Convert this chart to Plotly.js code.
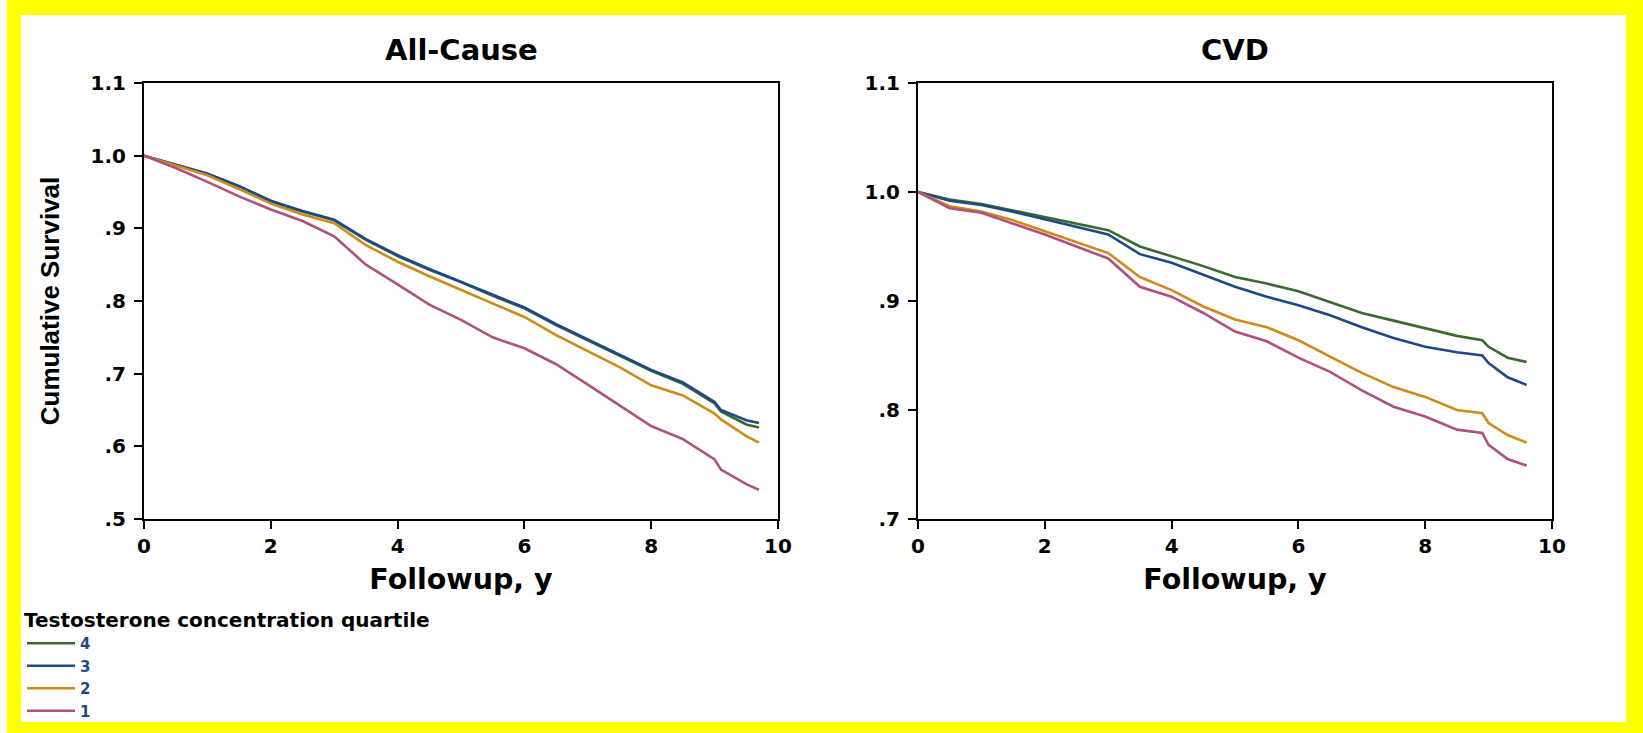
<!DOCTYPE html>
<html>
<head>
<meta charset="utf-8">
<script src="https://cdn.plot.ly/plotly-3.0.1.min.js"></script>
<style>
  html, body { margin: 0; padding: 0; background: #ffffff; }
  #frame { position: absolute; left: 7px; top: 0; width: 1636px; height: 733px; background: #ffff00; }
  #inner { position: absolute; left: 21px; top: 15px; width: 1605px; height: 707px; background: #ffffff; }
  #chart { position: absolute; left: 0; top: 0; width: 1643px; height: 733px; }
</style>
</head>
<body>
<div id="frame"></div>
<div id="inner"></div>
<div id="chart"></div>
<script>
// ---- Data ----
const panelTitles = ["All-Cause", "CVD"];
const quartileNames = ["4", "3", "2", "1"];

// All-Cause panel: follow-up years and cumulative survival per quartile
const tAll = [0, 0.5, 1, 1.5, 2, 2.5, 3, 3.5, 4, 4.5, 5, 5.5, 6, 6.5, 7, 7.5, 8, 8.5, 9, 9.1, 9.5, 9.7];
const allQ4 = [1.0, 0.987, 0.975, 0.958, 0.937, 0.923, 0.911, 0.884, 0.862, 0.843, 0.826, 0.807, 0.790, 0.767, 0.746, 0.725, 0.704, 0.686, 0.659, 0.648, 0.630, 0.626];
const allQ3 = [1.0, 0.987, 0.975, 0.958, 0.938, 0.924, 0.912, 0.885, 0.863, 0.844, 0.826, 0.808, 0.791, 0.768, 0.747, 0.726, 0.705, 0.688, 0.661, 0.650, 0.636, 0.632];
const allQ2 = [1.0, 0.986, 0.973, 0.954, 0.934, 0.919, 0.907, 0.877, 0.854, 0.834, 0.815, 0.797, 0.778, 0.753, 0.731, 0.709, 0.684, 0.670, 0.645, 0.637, 0.614, 0.605];
const allQ1 = [1.0, 0.983, 0.964, 0.944, 0.926, 0.910, 0.889, 0.850, 0.823, 0.795, 0.774, 0.750, 0.735, 0.713, 0.685, 0.656, 0.628, 0.610, 0.582, 0.568, 0.548, 0.540];

// CVD panel
const tCvd = [0, 0.5, 1, 1.5, 2, 2.5, 3, 3.5, 4, 4.5, 5, 5.5, 6, 6.5, 7, 7.5, 8, 8.5, 8.9, 9, 9.3, 9.6];
const cvdQ4 = [1.0, 0.993, 0.989, 0.983, 0.977, 0.971, 0.965, 0.950, 0.941, 0.932, 0.922, 0.916, 0.909, 0.899, 0.889, 0.882, 0.875, 0.868, 0.864, 0.858, 0.848, 0.844];
const cvdQ3 = [1.0, 0.992, 0.988, 0.982, 0.975, 0.968, 0.961, 0.943, 0.935, 0.924, 0.913, 0.904, 0.896, 0.887, 0.876, 0.866, 0.858, 0.853, 0.850, 0.843, 0.830, 0.823];
const cvdQ2 = [1.0, 0.987, 0.982, 0.974, 0.964, 0.954, 0.944, 0.922, 0.910, 0.895, 0.883, 0.876, 0.864, 0.849, 0.834, 0.821, 0.812, 0.800, 0.797, 0.788, 0.777, 0.770];
const cvdQ1 = [1.0, 0.985, 0.981, 0.971, 0.961, 0.950, 0.939, 0.913, 0.904, 0.889, 0.872, 0.863, 0.848, 0.835, 0.818, 0.803, 0.794, 0.782, 0.779, 0.768, 0.755, 0.749];

// Tick labels
const xTickVals = [0, 2, 4, 6, 8, 10];
const xTickText = ["0", "2", "4", "6", "8", "10"];
const yTickValsAll = [0.5, 0.6, 0.7, 0.8, 0.9, 1.0, 1.1];
const yTickTextAll = [".5", ".6", ".7", ".8", ".9", "1.0", "1.1"];
const yTickValsCvd = [0.7, 0.8, 0.9, 1.0, 1.1];
const yTickTextCvd = [".7", ".8", ".9", "1.0", "1.1"];

// ---- Styles ----
const colors = {"4": "#3a6a2c", "3": "#1c4a86", "2": "#cf8a1b", "1": "#b0507f"};
const FONT = "DejaVu Sans, Verdana, sans-serif";

const allSeries = [allQ4, allQ3, allQ2, allQ1];
const cvdSeries = [cvdQ4, cvdQ3, cvdQ2, cvdQ1];

const traces = [];
quartileNames.forEach((q, i) => {
  traces.push({
    x: tAll, y: allSeries[i], xaxis: "x", yaxis: "y",
    type: "scatter", mode: "lines", name: q, legendgroup: q,
    line: {color: colors[q], width: 2.6}, showlegend: true
  });
});
quartileNames.forEach((q, i) => {
  traces.push({
    x: tCvd, y: cvdSeries[i], xaxis: "x2", yaxis: "y2",
    type: "scatter", mode: "lines", name: q, legendgroup: q,
    line: {color: colors[q], width: 2.6}, showlegend: false
  });
});

const W = 1643, H = 733;
const yDom = [1 - 519 / H, 1 - 83 / H];

function xAxis(domain) {
  return {
    domain: domain, range: [0, 10], tickvals: xTickVals, ticktext: xTickText,
    ticks: "outside", ticklen: 8, tickwidth: 2, tickcolor: "#000",
    showline: true, linecolor: "#000", linewidth: 2, mirror: true,
    showgrid: false, zeroline: false, fixedrange: true,
    tickfont: {family: FONT, size: 20, weight: "bold", color: "#000"},
    title: {text: "Followup, y", standoff: 12, font: {family: FONT, size: 28.5, weight: "bold", color: "#000"}}
  };
}
function yAxis(range, vals, text, anchor, withTitle) {
  const ax = {
    domain: yDom, range: range, tickvals: vals, ticktext: text, anchor: anchor,
    ticks: "outside", ticklen: 8, tickwidth: 2, tickcolor: "#000", ticklabelstandoff: 4,
    showline: true, linecolor: "#000", linewidth: 2, mirror: true,
    showgrid: false, zeroline: false, fixedrange: true,
    tickfont: {family: FONT, size: 20, weight: "bold", color: "#000"}
  };
  if (withTitle) {
    ax.title = {text: "Cumulative Survival", standoff: 23,
      font: {family: "Liberation Sans, Arial, sans-serif", size: 26, weight: "bold", color: "#000"}};
  }
  return ax;
}

const layout = {
  width: W, height: H,
  margin: {l: 0, r: 0, t: 0, b: 0, pad: 0},
  paper_bgcolor: "rgba(0,0,0,0)", plot_bgcolor: "#ffffff",
  showlegend: true,
  xaxis: Object.assign(xAxis([144 / W, 778 / W]), {anchor: "y"}),
  yaxis: yAxis([0.5, 1.1], yTickValsAll, yTickTextAll, "x", true),
  xaxis2: Object.assign(xAxis([918 / W, 1552 / W]), {anchor: "y2"}),
  yaxis2: yAxis([0.7, 1.1], yTickValsCvd, yTickTextCvd, "x2", false),
  legend: {
    x: 22 / W, y: 1 - 601 / H, xanchor: "left", yanchor: "top",
    bgcolor: "rgba(0,0,0,0)", borderwidth: 0,
    font: {family: FONT, size: 15, weight: "bold", color: "#1c4a86"},
    title: {text: "Testosterone concentration quartile", side: "top",
      font: {family: FONT, size: 20, weight: "bold", color: "#000"}},
    tracegroupgap: 0, itemwidth: 48
  },
  annotations: panelTitles.map((t, i) => ({
    text: t, xref: (i === 0 ? "x domain" : "x2 domain"), yref: "paper",
    x: 0.5, y: 1 - 50 / H, xanchor: "center", yanchor: "middle", showarrow: false,
    font: {family: FONT, size: 29, weight: "bold", color: "#000"}
  }))
};

Plotly.newPlot("chart", traces, layout, {displayModeBar: false, staticPlot: true});
</script>
</body>
</html>
